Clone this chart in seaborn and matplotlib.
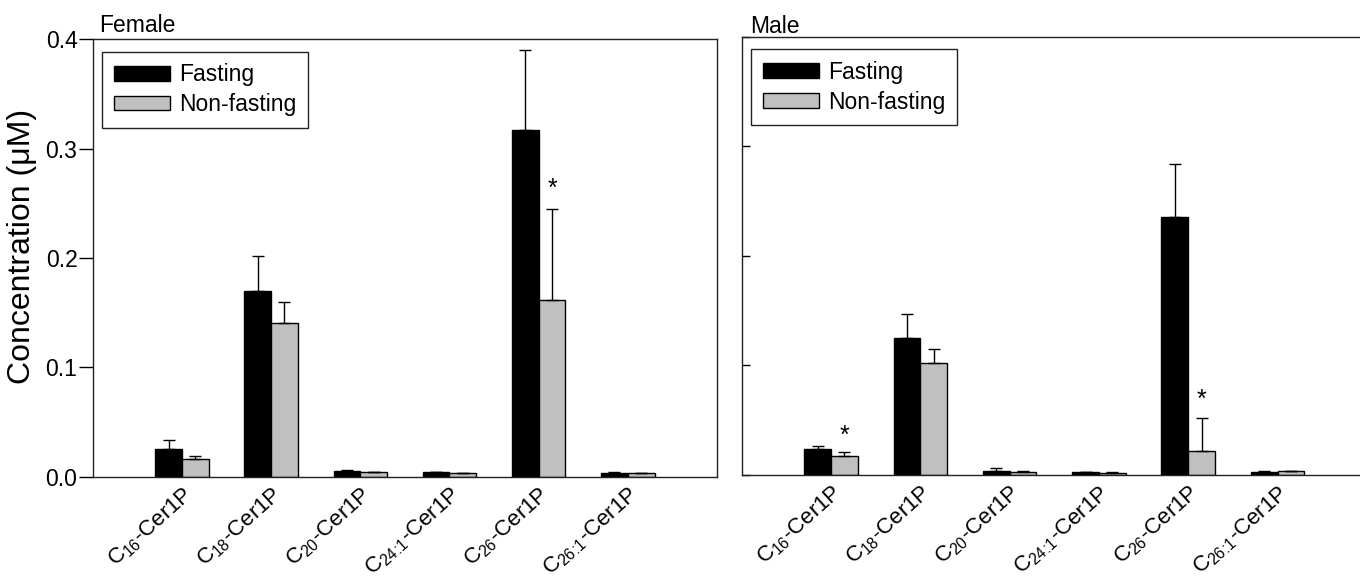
import matplotlib
matplotlib.use("Agg")
import matplotlib.pyplot as plt
import seaborn as sns
import pandas as pd
import numpy as np

# categorias (ceramida-1-fosfato por longitud de cadena)
lipids = [r"C$_{\rm 16}$-Cer1P", r"C$_{\rm 18}$-Cer1P", r"C$_{\rm 20}$-Cer1P",
          r"C$_{\rm 24\!:\!1}$-Cer1P", r"C$_{\rm 26}$-Cer1P",
          r"C$_{\rm 26\!:\!1}$-Cer1P"]
states = ["Fasting", "Non-fasting"]

# Female
female_fast = [0.025, 0.170, 0.005, 0.004, 0.317, 0.0034]
female_fast_err = [0.0086, 0.032, 0.001, 0.0005, 0.073, 0.0005]
female_non = [0.016, 0.141, 0.004, 0.003, 0.162, 0.003]
female_non_err = [0.003, 0.019, 0.0005, 0.0005, 0.083, 0.0005]

# Male
male_fast = [0.0235, 0.125, 0.0035, 0.0025, 0.235, 0.003]
male_fast_err = [0.003, 0.0215, 0.003, 0.0005, 0.049, 0.0005]
male_non = [0.017, 0.102, 0.003, 0.002, 0.022, 0.0035]
male_non_err = [0.004, 0.013, 0.0005, 0.0005, 0.030, 0.0005]

# asteriscos de significancia: (indice categoria, altura)
female_stars = [(4, 0.263)]
male_stars = [(0, 0.036), (4, 0.069)]

colores = ["black", "#c0c0c0"]

plt.rcParams["font.family"] = ["Liberation Sans", "DejaVu Sans"]
plt.rcParams["mathtext.fontset"] = "custom"
plt.rcParams["mathtext.rm"] = "Liberation Sans"
plt.rcParams["mathtext.it"] = "Liberation Sans:italic"
plt.rcParams["mathtext.bf"] = "Liberation Sans:bold"


def hacer_df(fast, non):
    return pd.DataFrame({
        "lipid": lipids * 2,
        "state": [states[0]] * 6 + [states[1]] * 6,
        "conc": fast + non,
    })


def panel(ax, fast, fast_err, non, non_err, stars, titulo, izquierda,
          pos_titulo, pos_leyenda):
    df = hacer_df(fast, non)
    sns.barplot(data=df, x="lipid", y="conc", hue="state", order=lipids,
                hue_order=states, palette=colores, edgecolor="black",
                linewidth=1, width=0.6, errorbar=None, ax=ax)
    barras = list(ax.containers)
    errs = [fast_err, non_err]
    for h, cont in enumerate(barras):
        xs = [b.get_x() + b.get_width() / 2 for b in cont]
        ys = [b.get_height() for b in cont]
        ax.errorbar(xs, ys, yerr=[np.zeros(len(ys)), errs[h]], fmt="none",
                    ecolor="black", elinewidth=1, capsize=4, capthick=1)
    centros = [b.get_x() + b.get_width() / 2 for b in barras[1]]
    for i, y in stars:
        ax.text(centros[i], y, "*", ha="center", va="center", fontsize=18)

    ax.set_xlim(-1, 6)
    ax.set_ylim(0, 0.4)
    ax.set_yticks([0.0, 0.1, 0.2, 0.3, 0.4])
    ax.set_xticks(range(6))
    ax.set_xticklabels(lipids, rotation=42, ha="right",
                       rotation_mode="anchor", fontsize=16)
    ax.tick_params(axis="x", length=0, pad=5)
    ax.set_xlabel("")
    for s in ax.spines.values():
        s.set_linewidth(1)
        s.set_color("#222222")
    if izquierda:
        ax.set_yticklabels(["0.0", "0.1", "0.2", "0.3", "0.4"])
        ax.tick_params(axis="y", direction="out", length=10, width=1,
                       labelsize=16.5, pad=1)
        ax.set_ylabel("Concentration (\u03bcM)", fontsize=23)
        ax.yaxis.set_label_coords(-0.0897, 0.527)
    else:
        ax.tick_params(axis="y", direction="in", length=6, width=1,
                       labelleft=False)
        ax.set_ylabel("")
    ax.text(pos_titulo[0], pos_titulo[1], titulo, transform=ax.transAxes,
            fontsize=16.5, ha="left", va="baseline")

    handles, labels = ax.get_legend_handles_labels()
    leg = ax.legend(handles, labels, loc="upper left",
                    bbox_to_anchor=pos_leyenda, borderaxespad=0,
                    fontsize=16.5, handlelength=2.45, handleheight=0.6,
                    handletextpad=0.4, labelspacing=0.3, borderpad=0.5,
                    fancybox=False, framealpha=1)
    leg.get_frame().set_edgecolor("#222222")
    leg.get_frame().set_linewidth(1)


fig = plt.figure(figsize=(13.6, 5.83), dpi=100)
ax1 = fig.add_axes([0.0682, 0.1823, 0.459, 0.750])
ax2 = fig.add_axes([0.5454, 0.1852, 0.4596, 0.752])

panel(ax1, female_fast, female_fast_err, female_non, female_non_err,
      female_stars, "Female", True, (0.010, 1.0174), (0.0154, 0.9716))
panel(ax2, male_fast, male_fast_err, male_non, male_non_err,
      male_stars, "Male", False, (0.0128, 1.008), (0.0149, 0.971))

fig.savefig("out.png", dpi=100)
